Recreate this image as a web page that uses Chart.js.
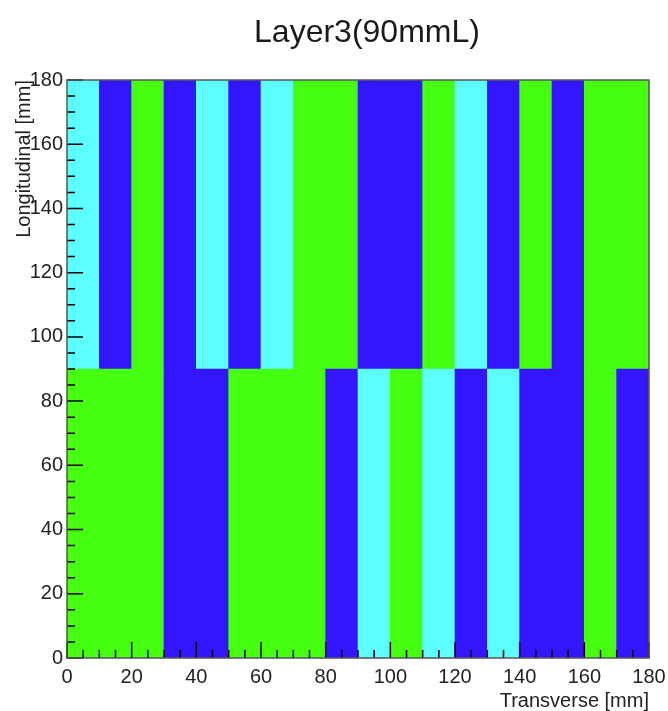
<!DOCTYPE html>
<html>
<head>
<meta charset="utf-8">
<title>Layer3(90mmL)</title>
<script src="https://cdn.jsdelivr.net/npm/chart.js@4.4.1/dist/chart.umd.min.js"></script>
<style>
    html, body { margin: 0; padding: 0; background: #ffffff; }
    #wrap { width: 668px; height: 711px; }
</style>
</head>
<body>
<div id="wrap"><canvas id="layerMap" width="668" height="711"></canvas></div>
<script>
// Transverse bin edges [mm]
var transverseEdges = [0, 10, 20, 30, 40, 50, 60, 70, 80, 90, 100, 110, 120, 130, 140, 150, 160, 170, 180];
// Longitudinal row edges [mm]
var longitudinalEdges = [0, 90, 180];

// Cell codes per transverse bin (1 = blue, 2 = cyan, 3 = green)
var lowerRow = [3, 3, 3, 1, 1, 3, 3, 3, 1, 2, 3, 2, 1, 2, 1, 1, 3, 1];
var upperRow = [2, 1, 3, 1, 2, 1, 2, 3, 3, 1, 1, 3, 2, 1, 3, 1, 3, 3];

var axisTicks = [0, 20, 40, 60, 80, 100, 120, 140, 160, 180];

var codeColors = { 1: '#3316ff', 2: '#5cfffe', 3: '#46ff10' };
var FONT = "'Liberation Sans', Arial, Helvetica, sans-serif";

function rowDataset(codes, rowIndex) {
    var lo = longitudinalEdges[rowIndex];
    var hi = longitudinalEdges[rowIndex + 1];
    return {
        data: codes.map(function(code, i) {
            return { x: (transverseEdges[i] + transverseEdges[i + 1]) / 2, y: [lo, hi] };
        }),
        backgroundColor: codes.map(function(code) { return codeColors[code]; }),
        borderWidth: 0,
        barPercentage: 1,
        categoryPercentage: 1,
        grouped: false
    };
}

// ticks inside the frame, frame outline and the title
var frameDecor = {
    id: 'frameDecor',
    afterDatasetsDraw: function(chart) {
        var ctx = chart.ctx;
        var area = chart.chartArea;
        var xs = chart.scales.x;
        var ys = chart.scales.y;
        var v, len, px, py;

        ctx.save();
        ctx.strokeStyle = '#000000';
        ctx.lineWidth = 1.5;
        ctx.beginPath();
        for (v = 0; v <= 180; v += 5) {
            len = (v % 20 === 0) ? 16 : 8;
            px = xs.getPixelForValue(v);
            ctx.moveTo(px, area.bottom);
            ctx.lineTo(px, area.bottom - len);
            py = ys.getPixelForValue(v);
            ctx.moveTo(area.left, py);
            ctx.lineTo(area.left + len, py);
        }
        ctx.stroke();

        ctx.strokeStyle = '#555555';
        ctx.lineWidth = 1.5;
        ctx.strokeRect(area.left, area.top, area.right - area.left, area.bottom - area.top);

        ctx.fillStyle = '#1a1a1a';
        ctx.font = '32px ' + FONT;
        ctx.textAlign = 'center';
        ctx.textBaseline = 'alphabetic';
        ctx.fillText('Layer3(90mmL)', 367, 42);
        ctx.restore();
    }
};

new Chart(document.getElementById('layerMap'), {
    type: 'bar',
    data: {
        datasets: [rowDataset(lowerRow, 0), rowDataset(upperRow, 1)]
    },
    options: {
        responsive: false,
        animation: false,
        events: [],
        layout: { padding: { top: 80, right: 19, left: 0, bottom: 0 } },
        plugins: {
            legend: { display: false },
            tooltip: { enabled: false },
            title: { display: false }
        },
        scales: {
            x: {
                type: 'linear',
                min: 0,
                max: 180,
                offset: false,
                grid: { display: false, drawTicks: false, offset: false },
                border: { display: false },
                afterBuildTicks: function(scale) {
                    scale.ticks = axisTicks.map(function(t) { return { value: t }; });
                },
                afterFit: function(scale) {
                    scale.height = 53;
                    scale.paddingLeft = 0;
                    scale.paddingRight = 0;
                },
                ticks: {
                    autoSkip: false,
                    maxRotation: 0,
                    padding: 7,
                    color: '#222222',
                    font: { family: FONT, size: 20 }
                },
                title: {
                    display: true,
                    text: 'Transverse [mm]',
                    align: 'end',
                    color: '#222222',
                    font: { family: FONT, size: 20, lineHeight: 1 },
                    padding: { top: 0, bottom: 0 }
                }
            },
            y: {
                type: 'linear',
                min: 0,
                max: 180,
                grid: { display: false, drawTicks: false },
                border: { display: false },
                afterBuildTicks: function(scale) {
                    scale.ticks = axisTicks.map(function(t) { return { value: t }; });
                },
                afterFit: function(scale) {
                    scale.width = 67;
                    scale.paddingTop = 0;
                    scale.paddingBottom = 0;
                },
                ticks: {
                    autoSkip: false,
                    padding: 4,
                    color: '#222222',
                    font: { family: FONT, size: 20 }
                },
                title: {
                    display: true,
                    text: 'Longitudinal [mm]',
                    align: 'end',
                    color: '#222222',
                    font: { family: FONT, size: 20, lineHeight: 1 },
                    padding: { top: 14, bottom: 0 }
                }
            }
        }
    },
    plugins: [frameDecor]
});
</script>
</body>
</html>
